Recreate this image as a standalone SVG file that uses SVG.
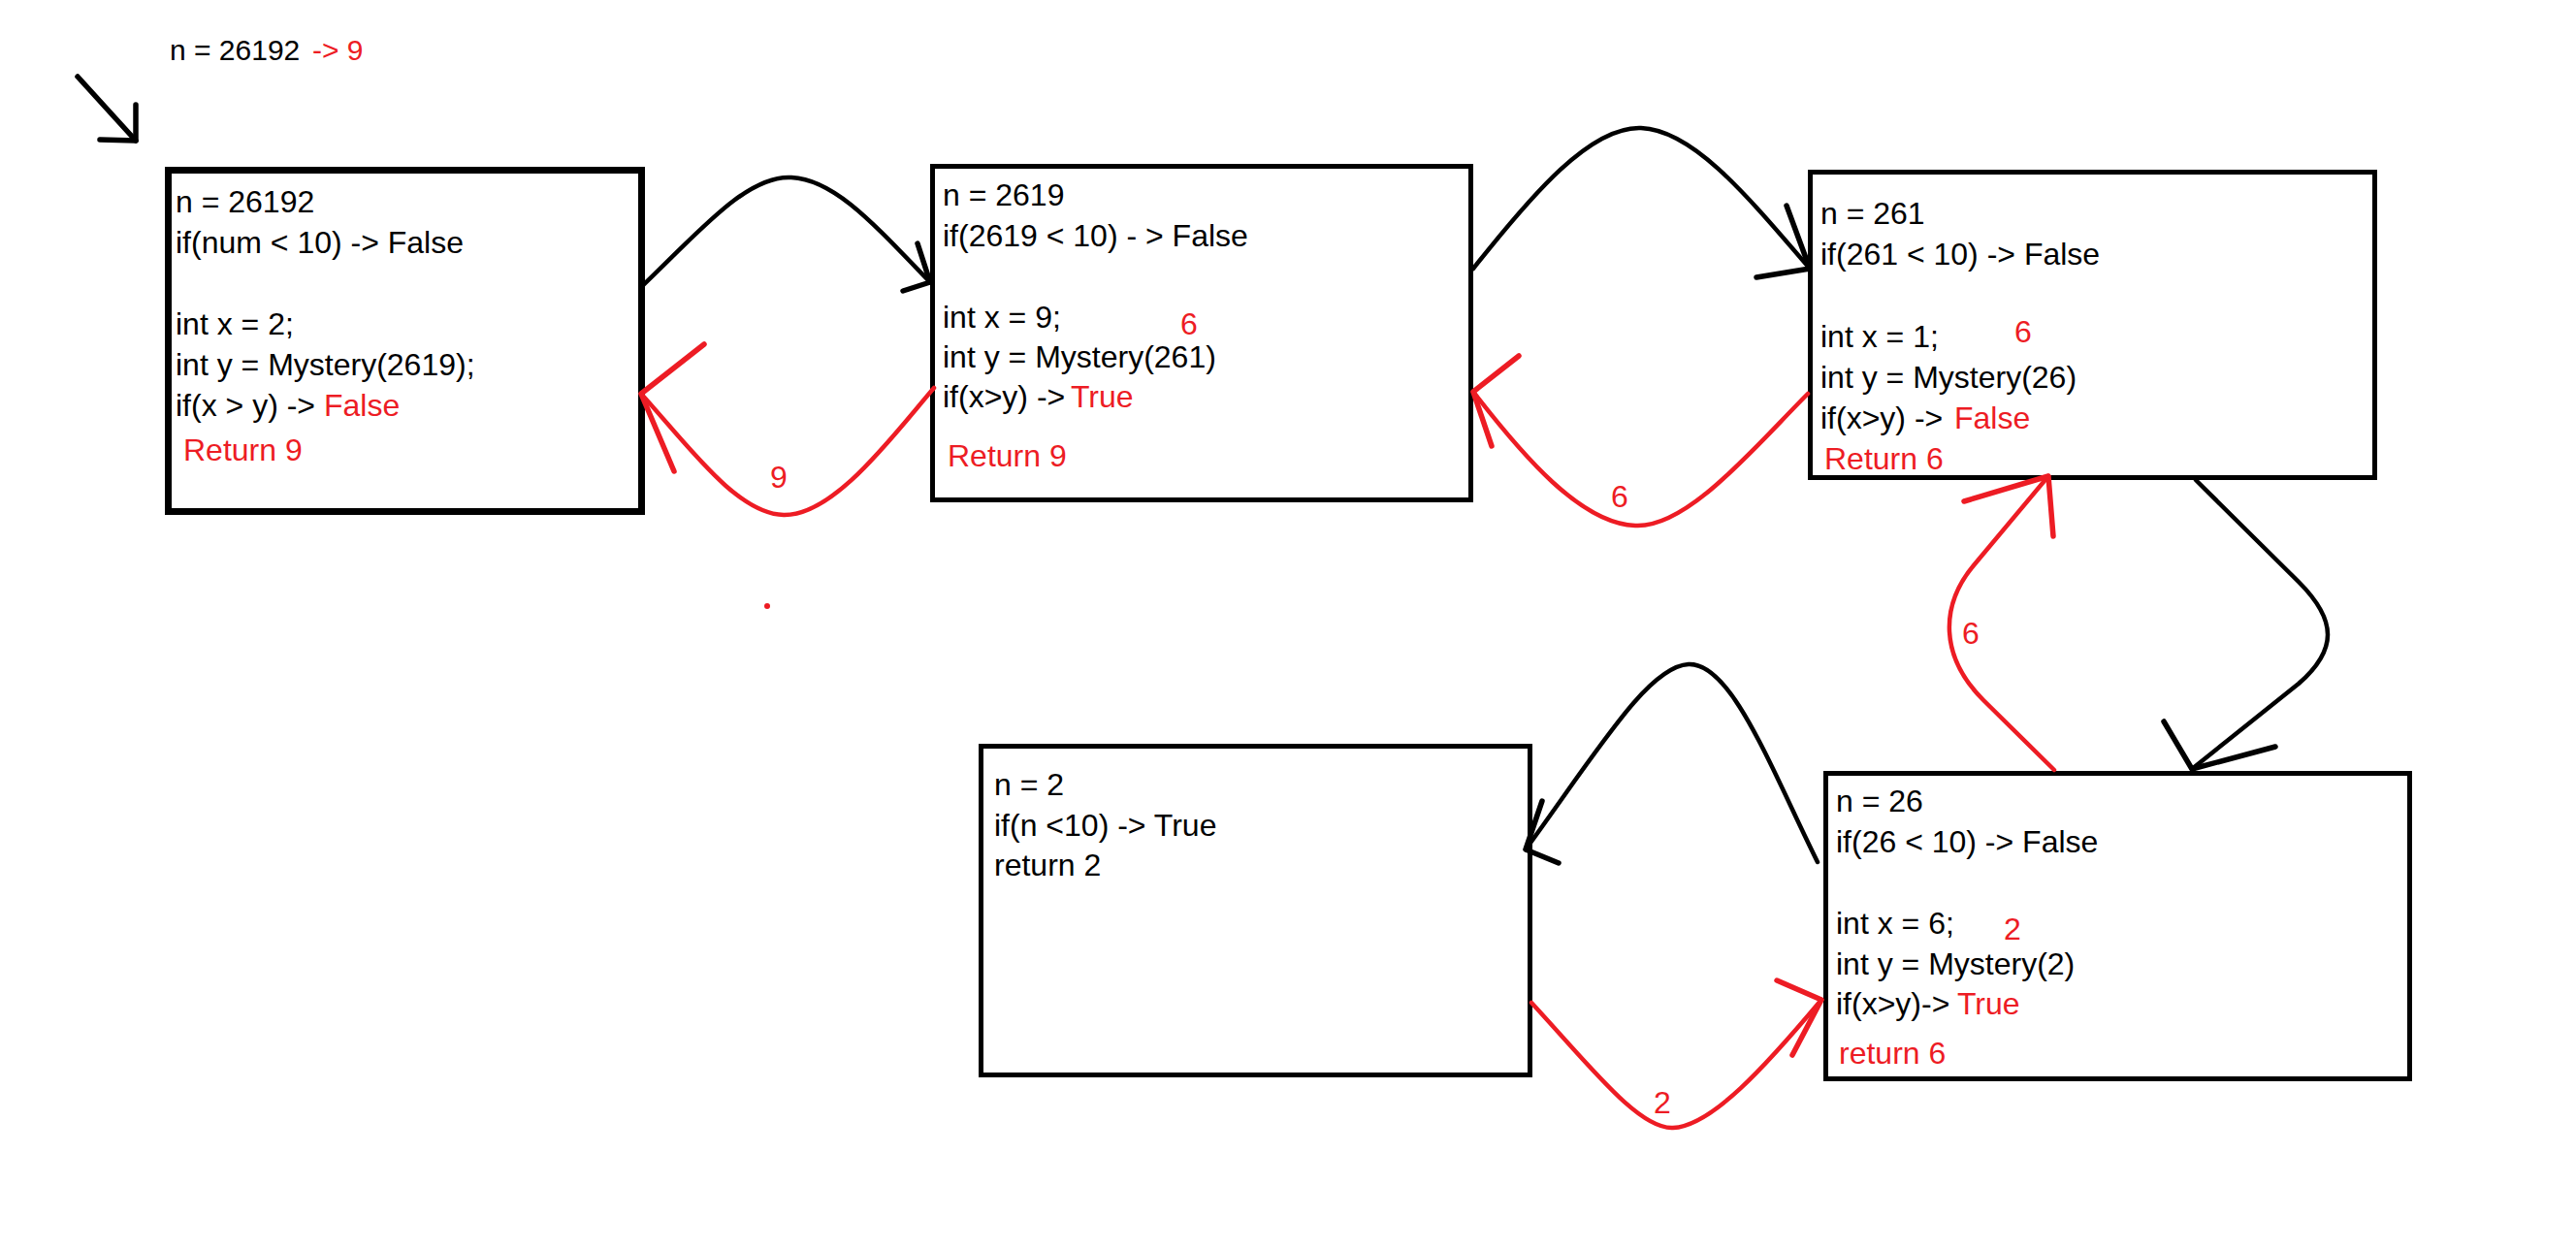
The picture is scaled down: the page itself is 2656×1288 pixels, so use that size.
<svg xmlns="http://www.w3.org/2000/svg" width="2656" height="1288" viewBox="0 0 2656 1288">
<style>
.box{fill:#fff;stroke:#000;stroke-width:5}
.t{font-family:'Liberation Sans',Arial,sans-serif;font-size:32px;fill:#000}
.r{fill:#ed1c24}
.lbl{font-family:'Liberation Sans',Arial,sans-serif;font-size:32px;fill:#ed1c24;text-anchor:middle}
.bk{fill:none;stroke:#000;stroke-width:4.5;stroke-linecap:round;stroke-linejoin:round}
.rd{fill:none;stroke:#ed1c24;stroke-width:4.5;stroke-linecap:round;stroke-linejoin:round}
.hd{stroke-width:5.5}
</style>
<rect x="0" y="0" width="2656" height="1288" fill="#fff"/>

<g id="title">
<text class="t" x="175" y="62" style="font-size:30px">n = 26192 <tspan class="r" x="322">-&gt; 9</tspan></text>
</g>

<g id="node1">
<rect class="box" x="173.5" y="175.5" width="488" height="352" style="stroke-width:7"/>
<text class="t" x="181" y="219">n = 26192</text>
<text class="t" x="181" y="261">if(num &lt; 10) -&gt; False</text>
<text class="t" x="181" y="345">int x = 2;</text>
<text class="t" x="181" y="387">int y = Mystery(2619);</text>
<text class="t" x="181" y="429">if(x &gt; y) -&gt; <tspan class="r" x="334">False</tspan></text>
<text class="t r" x="189" y="475">Return 9</text>
</g>

<g id="node2">
<rect class="box" x="961.5" y="171.5" width="555" height="344"/>
<text class="t" x="972" y="212">n = 2619</text>
<text class="t" x="972" y="254">if(2619 &lt; 10) - &gt; False</text>
<text class="t" x="972" y="338">int x = 9;</text>
<text class="t" x="972" y="379">int y = Mystery(261)</text>
<text class="t" x="972" y="420">if(x&gt;y) -&gt; <tspan class="r" x="1104">True</tspan></text>
<text class="t r" x="977" y="481">Return 9</text>
<text class="lbl" x="1226" y="345">6</text>
</g>

<g id="node3">
<rect class="box" x="1866.5" y="177.5" width="582" height="315"/>
<text class="t" x="1877" y="231">n = 261</text>
<text class="t" x="1877" y="273">if(261 &lt; 10) -&gt; False</text>
<text class="t" x="1877" y="358">int x = 1;</text>
<text class="t" x="1877" y="400">int y = Mystery(26)</text>
<text class="t" x="1877" y="442">if(x&gt;y) -&gt; <tspan class="r" x="2015">False</tspan></text>
<text class="t r" x="1881" y="484">Return 6</text>
<text class="lbl" x="2086" y="353">6</text>
</g>

<g id="node4">
<rect class="box" x="1011.5" y="769.5" width="566" height="339"/>
<text class="t" x="1025" y="820">n = 2</text>
<text class="t" x="1025" y="862">if(n &lt;10) -&gt; True</text>
<text class="t" x="1025" y="903">return 2</text>
</g>

<g id="node5">
<rect class="box" x="1882.5" y="797.5" width="602" height="315"/>
<text class="t" x="1893" y="837">n = 26</text>
<text class="t" x="1893" y="879">if(26 &lt; 10) -&gt; False</text>
<text class="t" x="1893" y="963">int x = 6;</text>
<text class="t" x="1893" y="1005">int y = Mystery(2)</text>
<text class="t" x="1893" y="1046">if(x&gt;y)-&gt; <tspan class="r" x="2018">True</tspan></text>
<text class="t r" x="1896" y="1097">return 6</text>
<text class="lbl" x="2075" y="969">2</text>
</g>

<g id="connectors">
<!-- start arrow -->
<path class="bk hd" d="M80,79 L140,145"/>
<path class="bk hd" d="M140,108 L140,145 L103,144"/>

<!-- 1 -> 2 -->
<path class="bk" d="M661,296 C720,240 770,180 816,183 C860,185 900,230 959,291"/>
<path class="bk hd" d="M946,251 L959,291 L931,300"/>

<!-- 2 -> 1 return 9 -->
<path class="rd" d="M963,400 C920,450 860,532 808,531 C760,530 710,460 661,406"/>
<path class="rd hd" d="M726,355 L661,406 L695,486"/>
<text class="lbl" x="803" y="503">9</text>
<circle cx="791" cy="625" r="3" fill="#ed1c24"/>

<!-- 2 -> 3 -->
<path class="bk" d="M1519,277 C1580,200 1640,130 1692,132 C1745,134 1800,200 1866,277"/>
<path class="bk hd" d="M1842,212 L1866,277 L1811,286"/>

<!-- 3 -> 2 return 6 -->
<path class="rd" d="M1864,406 C1810,460 1740,545 1686,542 C1630,540 1570,470 1519,404"/>
<path class="rd hd" d="M1566,367 L1519,404 L1538,460"/>
<text class="lbl" x="1670" y="523">6</text>

<!-- 3 -> 5 -->
<path class="bk" d="M2264,495 L2370,600 C2410,640 2410,670 2370,705 L2260,793"/>
<path class="bk hd" d="M2231,744 L2260,793 L2346,770"/>

<!-- 5 -> 3 return 6 -->
<path class="rd" d="M2118,794 L2045,722 C2000,677 2000,625 2035,583 L2112,491"/>
<path class="rd hd" d="M2025,517 L2112,491 L2117,553"/>
<text class="lbl" x="2032" y="664">6</text>

<!-- 5 -> 4 -->
<path class="bk" d="M1874,889 C1825,790 1785,683 1741,685 C1700,687 1650,770 1573,876"/>
<path class="bk hd" d="M1590,826 L1573,876 L1607,890"/>

<!-- 4 -> 5 return 2 -->
<path class="rd" d="M1579,1034 C1640,1100 1690,1165 1725,1163 C1765,1161 1820,1100 1878,1031"/>
<path class="rd hd" d="M1832,1011 L1878,1031 L1848,1088"/>
<text class="lbl" x="1714" y="1148">2</text>
</g>
</svg>
